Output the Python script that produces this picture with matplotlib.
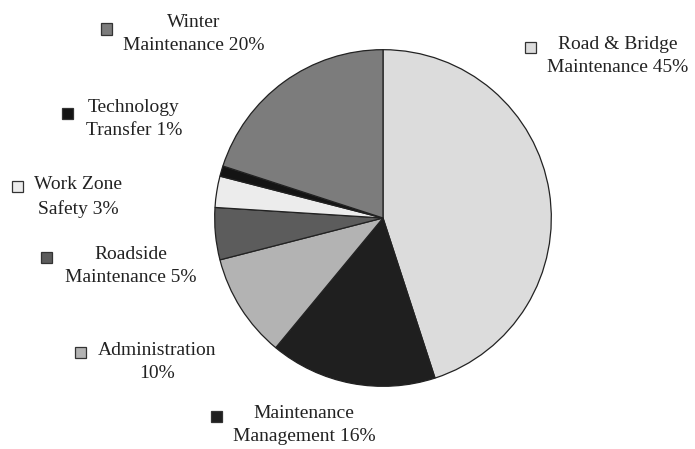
import matplotlib
matplotlib.use("Agg")
import matplotlib.pyplot as plt
from matplotlib.patches import Rectangle

# Data (clockwise from 12 o'clock)
categories = ["Road & Bridge\nMaintenance 45%", "Maintenance\nManagement 16%", "Administration\n10%",
              "Roadside\nMaintenance 5%", "Work Zone\nSafety 3%", "Technology\nTransfer 1%",
              "Winter\nMaintenance 20%"]
values = [45, 16, 10, 5, 3, 1, 20]
colors = ["#dcdcdc", "#1f1f1f", "#b3b3b3", "#5c5c5c", "#ececec", "#141414", "#7c7c7c"]

W, H = 695, 449
fig = plt.figure(figsize=(W / 100, H / 100), dpi=100)
fig.patch.set_facecolor("white")

cx, cy, r = 383, 218, 170
ax = fig.add_axes([(cx - r) / W, 1 - (cy + r) / H, 2 * r / W, 2 * r / H])
ax.pie(values, colors=colors, startangle=90, counterclock=False,
       wedgeprops=dict(edgecolor="#222222", linewidth=0.9))
ax.set_xlim(-1.01, 1.01)
ax.set_ylim(-1.01, 1.01)
ax.set_aspect("equal")
ax.axis("off")

# label positions in pixels: (marker x, marker y, text center x, text center y)
label_pos = [
    (530, 47, 618, 56),
    (216, 416, 304, 425),
    (80, 352, 157, 362),
    (46, 257, 131, 266),
    (17, 187, 78, 197),
    (67, 113, 134, 119),
    (106, 29, 194, 34),
]

font = dict(family="Liberation Serif", fontsize=14, color="#222222")
for lab, col, (mx, my, tx, ty) in zip(categories, colors, label_pos):
    s = 11
    fig.patches.append(Rectangle(((mx - s / 2) / W, 1 - (my + s / 2) / H), s / W, s / H,
                                 transform=fig.transFigure, facecolor=col,
                                 edgecolor="#333333", linewidth=0.9))
    fig.text(tx / W, 1 - ty / H, lab, ha="center", va="center", multialignment="center",
             linespacing=1.5, **font)

fig.savefig("out.png", dpi=100)
